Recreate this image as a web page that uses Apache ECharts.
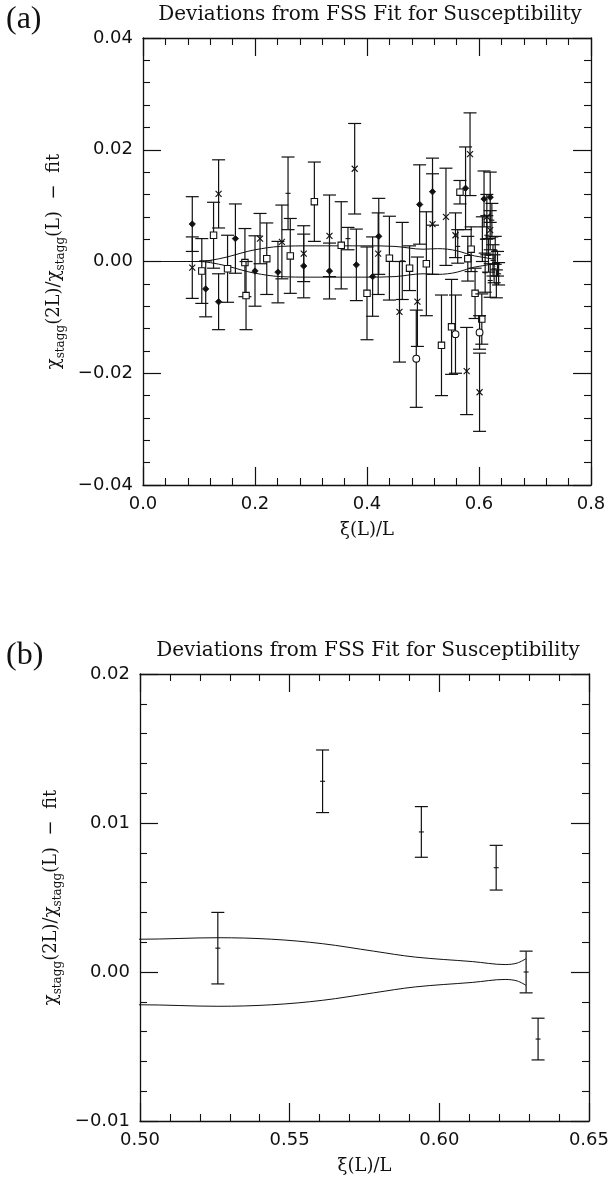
<!DOCTYPE html>
<html><head><meta charset="utf-8">
<script src="https://cdn.jsdelivr.net/npm/echarts@6/dist/echarts.min.js"></script>
<style>html,body{margin:0;padding:0;background:#fff}#c{width:612px;height:1184px}</style>
</head><body><div id="c"></div>
<script>
// ---------- Panel (a) data ----------
const diamondX = [0.088, 0.112, 0.135, 0.165, 0.200, 0.241, 0.287, 0.333, 0.381, 0.410, 0.421, 0.494, 0.517, 0.576, 0.609, 0.620];
const diamondY = [0.0067, -0.0049, -0.0072, 0.0041, -0.0017, -0.0019, -0.0008, -0.0017, -0.0006, -0.0027, 0.0045, 0.0102, 0.0125, 0.0131, 0.0112, 0.0115];
const diamondE = [0.0049, 0.0050, 0.0050, 0.0062, 0.0063, 0.0055, 0.0057, 0.0050, 0.0064, 0.0071, 0.0068, 0.0071, 0.0060, 0.0074, 0.0050, 0.0045];

const crossX = [0.088, 0.135, 0.209, 0.248, 0.287, 0.333, 0.378, 0.420, 0.458, 0.490, 0.517, 0.541, 0.558, 0.578, 0.584, 0.601, 0.614, 0.620];
const crossY = [-0.0011, 0.0121, 0.0041, 0.0035, 0.0014, 0.0046, 0.0166, 0.0014, -0.0090, -0.0072, 0.0067, 0.0080, 0.0047, -0.0196, 0.0192, -0.0234, 0.0080, 0.0056];
const crossE = [0.0055, 0.0061, 0.0045, 0.0066, 0.0050, 0.0073, 0.0081, 0.0073, 0.0090, 0.0080, 0.0090, 0.0087, 0.0040, 0.0078, 0.0074, 0.0070, 0.0040, 0.0035];

const squareX = [0.105, 0.126, 0.151, 0.182, 0.184, 0.221, 0.263, 0.306, 0.354, 0.400, 0.440, 0.476, 0.506, 0.533, 0.551, 0.566, 0.580, 0.586, 0.593, 0.605];
const squareY = [-0.0017, 0.0047, -0.0013, -0.0002, -0.0061, 0.0005, 0.0010, 0.0107, 0.0029, -0.0057, 0.0006, -0.0012, -0.0004, -0.0150, -0.0117, 0.0124, 0.0005, 0.0022, -0.0057, -0.0103];
const squareE = [0.0058, 0.0059, 0.0060, 0.0061, 0.0061, 0.0064, 0.0067, 0.0071, 0.0078, 0.0083, 0.0075, 0.0040, 0.0093, 0.0090, 0.0085, 0.0021, 0.0040, 0.0040, 0.0045, 0.0045];

const circleX = [0.488, 0.558, 0.601];
const circleY = [-0.0174, -0.0130, -0.0127];
const circleE = [0.0087, 0.0070, 0.0030];

const plusX = [0.259, 0.366, 0.463, 0.562, 0.606, 0.611, 0.614, 0.617, 0.620, 0.623, 0.625, 0.627, 0.629, 0.631, 0.633, 0.635];
const plusY = [0.0122, 0.0041, 0.0001, 0.0027, 0.0040, -0.0020, 0.0047, 0.0011, -0.0034, 0.0074, 0.0002, -0.0013, 0.0020, -0.0040, -0.0004, -0.0022];
const plusE = [0.0065, 0.0020, 0.0069, 0.0030, 0.0040, 0.0035, 0.0035, 0.0030, 0.0030, 0.0030, 0.0028, 0.0025, 0.0025, 0.0025, 0.0022, 0.0020];

// fit band (upper / lower curves)
const bandX     = [0.0, 0.10, 0.12, 0.15, 0.175, 0.20, 0.245, 0.30, 0.40, 0.45, 0.50, 0.526, 0.544, 0.561, 0.578, 0.592, 0.611, 0.622, 0.626, 0.629];
const bandUpper = [0, 0, 0.0002, 0.0008, 0.0015, 0.0021, 0.0027, 0.0028, 0.0028, 0.0027, 0.0022, 0.0023, 0.0022, 0.0019, 0.0014, 0.0010, 0.0007, 0.0005, 0.0006, 0.0009];
const bandLower = [0, 0, -0.0002, -0.0008, -0.0015, -0.0021, -0.0027, -0.0028, -0.0028, -0.0027, -0.0022, -0.0023, -0.0022, -0.0019, -0.0014, -0.0010, -0.0007, -0.0005, -0.0006, -0.0009];

// ---------- Panel (b) data ----------
const bX = [0.526, 0.561, 0.594, 0.619, 0.629, 0.633];
const bY = [0.0016, 0.0128, 0.0094, 0.0070, 0.0000, -0.0045];
const bE = [0.0024, 0.0021, 0.0017, 0.0015, 0.0014, 0.0014];

// tick labels
const xTicksA = ['0.0', '0.2', '0.4', '0.6', '0.8'];
const titleText = 'Deviations from FSS Fit for Susceptibility';

const INK = '#111';
const labelFont = { fontFamily: 'DejaVu Sans', fontSize: 18, color: INK };
const fmtY = v => (v < -1e-9 ? '\u2212' : '') + Math.abs(v).toFixed(2);

function markerShapes(kind, p) {
  const st = { stroke: INK, lineWidth: 1.1, fill: '#fff' };
  const x = p[0], y = p[1];
  if (kind === 'diamond') return [{ type: 'polygon', shape: { points: [[x, y - 3.2], [x + 3.2, y], [x, y + 3.2], [x - 3.2, y]] }, style: { fill: INK, stroke: INK, lineWidth: 0.8 } }];
  if (kind === 'cross') return [
    { type: 'line', shape: { x1: x - 3, y1: y - 3, x2: x + 3, y2: y + 3 }, style: st },
    { type: 'line', shape: { x1: x - 3, y1: y + 3, x2: x + 3, y2: y - 3 }, style: st }];
  if (kind === 'square') return [{ type: 'rect', shape: { x: x - 3.2, y: y - 3.2, width: 6.4, height: 6.4 }, style: st }];
  if (kind === 'circle') return [{ type: 'circle', shape: { cx: x, cy: y, r: 3.4 }, style: st }];
  return [{ type: 'line', shape: { x1: x - 2.5, y1: y, x2: x + 2.5, y2: y }, style: st }];
}

function errSeries(ax, xs, ys, es, kind, capHalf) {
  const data = xs.map((x, i) => [x, ys[i], es[i]]);
  return {
    type: 'custom', xAxisIndex: ax, yAxisIndex: ax, data, clip: true, encode: { x: 0, y: 1 }, z: 3,
    renderItem: (params, api) => {
      const x = api.value(0), y = api.value(1), e = api.value(2);
      const p = api.coord([x, y]), t = api.coord([x, y + e]), b = api.coord([x, y - e]);
      const st = { stroke: INK, lineWidth: 1.2, fill: null };
      const ch = [
        { type: 'line', shape: { x1: p[0], y1: t[1], x2: p[0], y2: b[1] }, style: st },
        { type: 'line', shape: { x1: p[0] - capHalf, y1: t[1], x2: p[0] + capHalf, y2: t[1] }, style: st },
        { type: 'line', shape: { x1: p[0] - capHalf, y1: b[1], x2: p[0] + capHalf, y2: b[1] }, style: st }
      ];
      return { type: 'group', children: ch.concat(markerShapes(kind, p)) };
    }
  };
}

function bandSeries(ax, ys) {
  return {
    type: 'line', xAxisIndex: ax, yAxisIndex: ax, data: bandX.map((x, i) => [x, ys[i]]),
    showSymbol: false, symbol: 'none', smooth: 0.35, clip: true, z: 2,
    lineStyle: { color: INK, width: 1 }, silent: true
  };
}

const yName = '{n|\u03c7}{s|stagg}{n|(2L)/\u03c7}{s|stagg}{n|(L)  \u2212  fit}';
const yNameStyle = {
  color: INK,
  rich: {
    n: { fontFamily: 'DejaVu Serif', fontSize: 18, lineHeight: 26, color: INK },
    s: { fontFamily: 'DejaVu Serif', fontSize: 12, lineHeight: 14, verticalAlign: 'bottom', color: INK }
  }
};

function xAx(grid, min, max, interval, pos, dec, withName) {
  return {
    gridIndex: grid, type: 'value', min, max, interval, position: pos,
    axisLine: { show: true, onZero: false, lineStyle: { color: INK, width: 1.3 } },
    axisTick: { show: true, inside: true, length: 18, lineStyle: { color: INK, width: 1.2 } },
    minorTick: { show: true, splitNumber: 5, length: 7, lineStyle: { color: INK, width: 1.1 } },
    splitLine: { show: false },
    axisLabel: pos === 'bottom' ? Object.assign({ show: true, margin: 10, formatter: v => v.toFixed(dec) }, labelFont) : { show: false },
    name: withName ? '\u03be(L)/L' : '', nameLocation: 'middle', nameGap: 36,
    nameTextStyle: { fontFamily: 'DejaVu Serif', fontSize: 18, color: INK }
  };
}
function yAx(grid, min, max, interval, pos, withName) {
  return {
    gridIndex: grid, type: 'value', min, max, interval, position: pos,
    axisLine: { show: true, onZero: false, lineStyle: { color: INK, width: 1.3 } },
    axisTick: { show: true, inside: true, length: 18, lineStyle: { color: INK, width: 1.2 } },
    minorTick: { show: true, splitNumber: 5, length: 7, lineStyle: { color: INK, width: 1.1 } },
    splitLine: { show: false },
    axisLabel: pos === 'left' ? Object.assign({ show: true, margin: 10, formatter: fmtY }, labelFont) : { show: false },
    name: withName ? yName : '', nameLocation: 'middle', nameRotate: 90, nameGap: 72,
    nameTextStyle: yNameStyle
  };
}

const option = {
  backgroundColor: '#fff',
  animation: false,
  grid: [
    { left: 143, top: 38, width: 448, height: 447 },
    { left: 140, top: 674, width: 449, height: 447 }
  ],
  xAxis: [
    xAx(0, 0, 0.8, 0.2, 'bottom', 1, true),
    xAx(0, 0, 0.8, 0.2, 'top', 1, false),
    xAx(1, 0.5, 0.65, 0.05, 'bottom', 2, true),
    xAx(1, 0.5, 0.65, 0.05, 'top', 2, false)
  ],
  yAxis: [
    yAx(0, -0.04, 0.04, 0.02, 'left', true),
    yAx(0, -0.04, 0.04, 0.02, 'right', false),
    yAx(1, -0.01, 0.02, 0.01, 'left', true),
    yAx(1, -0.01, 0.02, 0.01, 'right', false)
  ],
  graphic: [
    { type: 'text', left: 6, top: 4, style: { text: '(a)', font: '32px "Liberation Serif"', fill: INK } },
    { type: 'text', left: 6, top: 640, style: { text: '(b)', font: '32px "Liberation Serif"', fill: INK } },
    { type: 'text', x: 370, y: 15, style: { text: titleText, font: '20px "DejaVu Serif"', fill: INK, align: 'center', verticalAlign: 'middle' } },
    { type: 'text', x: 368, y: 651, style: { text: titleText, font: '20px "DejaVu Serif"', fill: INK, align: 'center', verticalAlign: 'middle' } }
  ],
  series: [
    bandSeries(0, bandUpper), bandSeries(0, bandLower),
    errSeries(0, diamondX, diamondY, diamondE, 'diamond', 6.5),
    errSeries(0, crossX, crossY, crossE, 'cross', 6.5),
    errSeries(0, squareX, squareY, squareE, 'square', 6.5),
    errSeries(0, circleX, circleY, circleE, 'circle', 6.5),
    errSeries(0, plusX, plusY, plusE, 'plus', 6.5),
    Object.assign(bandSeries(2, bandUpper), { xAxisIndex: 2, yAxisIndex: 2 }),
    Object.assign(bandSeries(2, bandLower), { xAxisIndex: 2, yAxisIndex: 2 }),
    Object.assign(errSeries(2, bX, bY, bE, 'plus', 6.5), { xAxisIndex: 2, yAxisIndex: 2 })
  ]
};
const chart = echarts.init(document.getElementById('c'));
chart.setOption(option);
</script>
</body></html>
